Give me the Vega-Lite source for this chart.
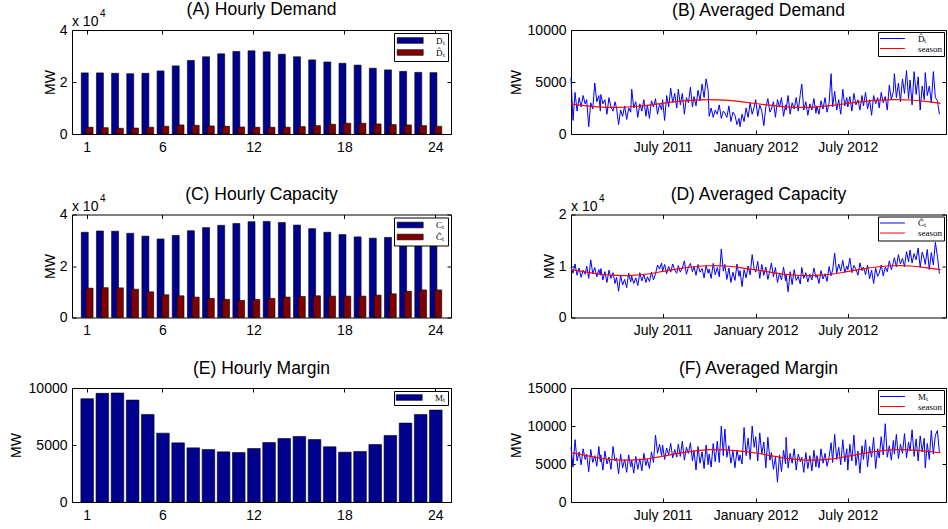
{
  "$schema": "https://vega.github.io/schema/vega-lite/v6.json",
  "padding": {"left": 9, "top": 1, "right": 0, "bottom": 0},
  "background": "white",
  "datasets": {
    "hourly": [
      {"hour":1,"D":23500,"Dh":2600,"C":33100,"Ch":11400,"M":9060},
      {"hour":2,"D":23500,"Dh":2450,"C":33600,"Ch":11600,"M":9530},
      {"hour":3,"D":23350,"Dh":2200,"C":33500,"Ch":11500,"M":9560},
      {"hour":4,"D":23200,"Dh":2300,"C":32700,"Ch":11000,"M":8940},
      {"hour":5,"D":23350,"Dh":2600,"C":31600,"Ch":9970,"M":7680},
      {"hour":6,"D":24260,"Dh":2970,"C":30500,"Ch":8820,"M":6040},
      {"hour":7,"D":26200,"Dh":3480,"C":31900,"Ch":8430,"M":5190},
      {"hour":8,"D":28260,"Dh":3350,"C":33700,"Ch":7920,"M":4750},
      {"hour":9,"D":29700,"Dh":3100,"C":34900,"Ch":7410,"M":4600},
      {"hour":10,"D":30840,"Dh":2970,"C":35800,"Ch":7030,"M":4400},
      {"hour":11,"D":31740,"Dh":2700,"C":36500,"Ch":6650,"M":4340},
      {"hour":12,"D":32000,"Dh":2600,"C":37200,"Ch":7030,"M":4690},
      {"hour":13,"D":31600,"Dh":2600,"C":37300,"Ch":7410,"M":5220},
      {"hour":14,"D":30700,"Dh":2600,"C":36900,"Ch":7920,"M":5570},
      {"hour":15,"D":29700,"Dh":2840,"C":35900,"Ch":8180,"M":5750},
      {"hour":16,"D":28500,"Dh":3230,"C":34500,"Ch":8430,"M":5480},
      {"hour":17,"D":27700,"Dh":3740,"C":33100,"Ch":8300,"M":4840},
      {"hour":18,"D":27200,"Dh":4130,"C":32200,"Ch":8300,"M":4370},
      {"hour":19,"D":26500,"Dh":4130,"C":31300,"Ch":8300,"M":4430},
      {"hour":20,"D":25300,"Dh":3870,"C":30800,"Ch":8690,"M":5040},
      {"hour":21,"D":24650,"Dh":3610,"C":31100,"Ch":9200,"M":5840},
      {"hour":22,"D":24100,"Dh":3480,"C":31500,"Ch":10200,"M":6920},
      {"hour":23,"D":23700,"Dh":3230,"C":31900,"Ch":10700,"M":7680},
      {"hour":24,"D":23600,"Dh":2970,"C":32200,"Ch":10700,"M":8060}
    ],
    "daily": [
      {"d":"2011-01-01","b":5400,"c":9800,"m":7200},{"d":"2011-01-05","b":1300,"c":8600,"m":4600},{"d":"2011-01-09","b":4000,"c":10400,"m":8200},{"d":"2011-01-13","b":2200,"c":8200,"m":5400},{"d":"2011-01-17","b":3500,"c":9600,"m":6600},{"d":"2011-01-21","b":2600,"c":7800,"m":4900},{"d":"2011-01-25","b":3700,"c":9200,"m":7000},{"d":"2011-01-29","b":2900,"c":8400,"m":5600},
      {"d":"2011-02-01","b":3300,"c":10000,"m":6300},{"d":"2011-02-05","b":700,"c":7600,"m":4000},{"d":"2011-02-09","b":3000,"c":11200,"m":6900},{"d":"2011-02-13","b":2400,"c":8500,"m":5200},{"d":"2011-02-17","b":4900,"c":9700,"m":6100},{"d":"2011-02-21","b":3100,"c":7900,"m":4700},{"d":"2011-02-25","b":3700,"c":9300,"m":7300},{"d":"2011-02-28","b":2200,"c":8200,"m":5300},
      {"d":"2011-03-01","b":3800,"c":9500,"m":6200},{"d":"2011-03-05","b":2900,"c":7300,"m":4200},{"d":"2011-03-09","b":3300,"c":8900,"m":6700},{"d":"2011-03-13","b":1900,"c":6800,"m":5000},{"d":"2011-03-17","b":3500,"c":9200,"m":5900},{"d":"2011-03-21","b":2600,"c":7600,"m":4300},{"d":"2011-03-25","b":2200,"c":8700,"m":7300},{"d":"2011-03-29","b":3100,"c":6600,"m":5400},
      {"d":"2011-04-01","b":2500,"c":7800,"m":5800},{"d":"2011-04-05","b":900,"c":5100,"m":3700},{"d":"2011-04-09","b":2300,"c":8200,"m":6300},{"d":"2011-04-13","b":1700,"c":6300,"m":4500},{"d":"2011-04-17","b":2700,"c":7400,"m":5600},{"d":"2011-04-21","b":1400,"c":5800,"m":3900},{"d":"2011-04-25","b":2500,"c":8600,"m":6200},{"d":"2011-04-29","b":2100,"c":6900,"m":4600},
      {"d":"2011-05-01","b":4300,"c":8000,"m":5500},{"d":"2011-05-05","b":2500,"c":6600,"m":3800},{"d":"2011-05-09","b":3100,"c":7700,"m":6000},{"d":"2011-05-13","b":1600,"c":6200,"m":4300},{"d":"2011-05-17","b":2900,"c":8700,"m":5700},{"d":"2011-05-21","b":2200,"c":7100,"m":4100},{"d":"2011-05-25","b":3300,"c":8400,"m":6400},{"d":"2011-05-29","b":1700,"c":6800,"m":4800},
      {"d":"2011-06-01","b":2800,"c":7900,"m":5600},{"d":"2011-06-05","b":1500,"c":7000,"m":4400},{"d":"2011-06-09","b":3200,"c":8800,"m":6600},{"d":"2011-06-13","b":2600,"c":7300,"m":5200},{"d":"2011-06-17","b":3400,"c":8500,"m":8800},{"d":"2011-06-21","b":1900,"c":10200,"m":6400},{"d":"2011-06-25","b":2900,"c":9400,"m":7600},{"d":"2011-06-29","b":2300,"c":10600,"m":6100},
      {"d":"2011-07-01","b":3300,"c":9000,"m":7500},{"d":"2011-07-05","b":1300,"c":10300,"m":5600},{"d":"2011-07-09","b":3700,"c":8500,"m":7100},{"d":"2011-07-13","b":2600,"c":9900,"m":6200},{"d":"2011-07-17","b":4400,"c":8800,"m":7700},{"d":"2011-07-21","b":3000,"c":10400,"m":5800},{"d":"2011-07-25","b":3900,"c":9200,"m":6900},{"d":"2011-07-29","b":2500,"c":8600,"m":5900},
      {"d":"2011-08-01","b":4300,"c":10100,"m":7600},{"d":"2011-08-05","b":2800,"c":8800,"m":6000},{"d":"2011-08-09","b":3900,"c":9600,"m":8000},{"d":"2011-08-13","b":1900,"c":11000,"m":5500},{"d":"2011-08-17","b":3500,"c":8400,"m":7200},{"d":"2011-08-21","b":3000,"c":9800,"m":6400},{"d":"2011-08-25","b":4500,"c":10500,"m":7800},{"d":"2011-08-29","b":2600,"c":8900,"m":5400},
      {"d":"2011-09-01","b":3600,"c":9900,"m":6800},{"d":"2011-09-05","b":2700,"c":8200,"m":4200},{"d":"2011-09-09","b":4200,"c":10300,"m":7300},{"d":"2011-09-13","b":3200,"c":8800,"m":5100},{"d":"2011-09-17","b":4800,"c":9500,"m":6600},{"d":"2011-09-21","b":3500,"c":7700,"m":4400},{"d":"2011-09-25","b":5300,"c":10100,"m":7500},{"d":"2011-09-29","b":4200,"c":8600,"m":4900},
      {"d":"2011-10-01","b":1700,"c":9400,"m":6300},{"d":"2011-10-05","b":2500,"c":7600,"m":4600},{"d":"2011-10-09","b":1600,"c":10500,"m":7700},{"d":"2011-10-13","b":2300,"c":8300,"m":5300},{"d":"2011-10-17","b":1900,"c":9700,"m":8000},{"d":"2011-10-21","b":2800,"c":7900,"m":5200},{"d":"2011-10-25","b":1500,"c":13300,"m":10000},{"d":"2011-10-29","b":2200,"c":9000,"m":6100},
      {"d":"2011-11-01","b":2000,"c":10300,"m":9600},{"d":"2011-11-05","b":1600,"c":7400,"m":5900},{"d":"2011-11-09","b":2700,"c":9600,"m":7400},{"d":"2011-11-13","b":1200,"c":6800,"m":5100},{"d":"2011-11-17","b":2100,"c":8800,"m":6700},{"d":"2011-11-21","b":1800,"c":7200,"m":4500},{"d":"2011-11-25","b":900,"c":10400,"m":6800},{"d":"2011-11-29","b":1500,"c":8000,"m":5400},
      {"d":"2011-12-01","b":700,"c":9100,"m":6200},{"d":"2011-12-05","b":1900,"c":6000,"m":5000},{"d":"2011-12-09","b":1200,"c":9300,"m":9800},{"d":"2011-12-13","b":2500,"c":7700,"m":6100},{"d":"2011-12-17","b":1600,"c":10000,"m":8400},{"d":"2011-12-21","b":3000,"c":8300,"m":5600},{"d":"2011-12-25","b":1900,"c":12200,"m":10000},{"d":"2011-12-29","b":2600,"c":9400,"m":7200},
      {"d":"2012-01-01","b":3300,"c":8800,"m":8600},{"d":"2012-01-05","b":1700,"c":10900,"m":5400},{"d":"2012-01-09","b":2800,"c":7600,"m":9100},{"d":"2012-01-13","b":2200,"c":10300,"m":6300},{"d":"2012-01-17","b":800,"c":8200,"m":7900},{"d":"2012-01-21","b":2600,"c":9800,"m":4500},{"d":"2012-01-25","b":3400,"c":7400,"m":8500},{"d":"2012-01-29","b":2100,"c":9100,"m":5500},
      {"d":"2012-02-01","b":2400,"c":10600,"m":6500},{"d":"2012-02-05","b":3100,"c":7900,"m":4300},{"d":"2012-02-09","b":1600,"c":9700,"m":5900},{"d":"2012-02-13","b":3300,"c":6800,"m":2600},{"d":"2012-02-17","b":2600,"c":8600,"m":6200},{"d":"2012-02-21","b":3500,"c":7300,"m":4000},{"d":"2012-02-25","b":1700,"c":9800,"m":6800},{"d":"2012-02-29","b":2800,"c":7100,"m":5000},
      {"d":"2012-03-01","b":2300,"c":8400,"m":8500},{"d":"2012-03-05","b":3700,"c":5000,"m":4500},{"d":"2012-03-09","b":1900,"c":8900,"m":6400},{"d":"2012-03-13","b":3000,"c":6400,"m":5100},{"d":"2012-03-17","b":2400,"c":9300,"m":7000},{"d":"2012-03-21","b":3500,"c":7200,"m":4200},{"d":"2012-03-25","b":2200,"c":8000,"m":6300},{"d":"2012-03-29","b":3800,"c":6500,"m":5300},
      {"d":"2012-04-01","b":4800,"c":9700,"m":5900},{"d":"2012-04-05","b":2300,"c":7600,"m":3900},{"d":"2012-04-09","b":3100,"c":8700,"m":6500},{"d":"2012-04-13","b":1800,"c":6900,"m":4400},{"d":"2012-04-17","b":2900,"c":8400,"m":6100},{"d":"2012-04-21","b":2300,"c":7300,"m":4100},{"d":"2012-04-25","b":3400,"c":9600,"m":6800},{"d":"2012-04-29","b":2000,"c":7800,"m":4600},
      {"d":"2012-05-01","b":2700,"c":8300,"m":6100},{"d":"2012-05-05","b":1900,"c":6600,"m":4500},{"d":"2012-05-09","b":3200,"c":9100,"m":7000},{"d":"2012-05-13","b":2400,"c":7500,"m":5100},{"d":"2012-05-17","b":3500,"c":8500,"m":6400},{"d":"2012-05-21","b":2100,"c":7000,"m":4700},{"d":"2012-05-25","b":3000,"c":9900,"m":5900},{"d":"2012-05-29","b":5800,"c":8100,"m":7800},
      {"d":"2012-06-01","b":2600,"c":9200,"m":5200},{"d":"2012-06-05","b":4100,"c":12500,"m":8900},{"d":"2012-06-09","b":2300,"c":8600,"m":5600},{"d":"2012-06-13","b":3300,"c":10400,"m":7200},{"d":"2012-06-17","b":1900,"c":9000,"m":4900},{"d":"2012-06-21","b":4300,"c":11100,"m":8200},{"d":"2012-06-25","b":2700,"c":8700,"m":5300},{"d":"2012-06-29","b":3500,"c":10000,"m":7000},
      {"d":"2012-07-01","b":2600,"c":9300,"m":4200},{"d":"2012-07-05","b":3600,"c":11500,"m":7600},{"d":"2012-07-09","b":2200,"c":8700,"m":5400},{"d":"2012-07-13","b":3900,"c":10100,"m":8800},{"d":"2012-07-17","b":2800,"c":9400,"m":4800},{"d":"2012-07-21","b":3300,"c":8200,"m":6700},{"d":"2012-07-25","b":2300,"c":10600,"m":3800},{"d":"2012-07-29","b":3700,"c":9100,"m":7400},
      {"d":"2012-08-01","b":2700,"c":9800,"m":5600},{"d":"2012-08-05","b":4000,"c":8300,"m":8200},{"d":"2012-08-09","b":2400,"c":10200,"m":4600},{"d":"2012-08-13","b":3300,"c":7500,"m":7300},{"d":"2012-08-17","b":1800,"c":9200,"m":5900},{"d":"2012-08-21","b":3700,"c":6600,"m":8500},{"d":"2012-08-25","b":2900,"c":9600,"m":4400},{"d":"2012-08-29","b":3500,"c":8000,"m":7000},
      {"d":"2012-09-01","b":2500,"c":8600,"m":5800},{"d":"2012-09-05","b":4000,"c":10200,"m":8600},{"d":"2012-09-09","b":3000,"c":8100,"m":6200},{"d":"2012-09-13","b":3600,"c":9800,"m":10300},{"d":"2012-09-17","b":2300,"c":8900,"m":5900},{"d":"2012-09-21","b":4700,"c":11000,"m":7400},{"d":"2012-09-25","b":3300,"c":9300,"m":5500},{"d":"2012-09-29","b":4100,"c":10700,"m":8100},
      {"d":"2012-10-01","b":5800,"c":11600,"m":6300},{"d":"2012-10-05","b":3500,"c":9800,"m":8900},{"d":"2012-10-09","b":4900,"c":12200,"m":5700},{"d":"2012-10-13","b":3100,"c":10400,"m":7600},{"d":"2012-10-17","b":5300,"c":11500,"m":6400},{"d":"2012-10-21","b":3900,"c":9900,"m":9000},{"d":"2012-10-25","b":6100,"c":12800,"m":5800},{"d":"2012-10-29","b":3400,"c":10800,"m":7900},
      {"d":"2012-11-01","b":5200,"c":13100,"m":6700},{"d":"2012-11-05","b":2800,"c":10600,"m":9500},{"d":"2012-11-09","b":6000,"c":12400,"m":6000},{"d":"2012-11-13","b":3800,"c":11200,"m":8300},{"d":"2012-11-17","b":5500,"c":13500,"m":5400},{"d":"2012-11-21","b":2300,"c":9700,"m":8700},{"d":"2012-11-25","b":4600,"c":12700,"m":6600},{"d":"2012-11-29","b":3300,"c":11400,"m":8400},
      {"d":"2012-12-01","b":5900,"c":10300,"m":4500},{"d":"2012-12-05","b":3700,"c":13200,"m":7700},{"d":"2012-12-09","b":4600,"c":9300,"m":5600},{"d":"2012-12-13","b":3000,"c":12600,"m":9400},{"d":"2012-12-17","b":6000,"c":10200,"m":6300},{"d":"2012-12-21","b":3500,"c":14600,"m":8800},{"d":"2012-12-25","b":3200,"c":11900,"m":9400},{"d":"2012-12-29","b":1900,"c":8500,"m":6500}
    ],
    "season": [
      {"d":"2011-01-01","sb":2870,"sc":9300,"sm":6500},
      {"d":"2011-02-01","sb":2700,"sc":8800,"sm":6100},
      {"d":"2011-03-01","sb":2590,"sc":8400,"sm":5750},
      {"d":"2011-04-01","sb":2560,"sc":8170,"sm":5550},
      {"d":"2011-05-01","sb":2620,"sc":8180,"sm":5520},
      {"d":"2011-06-01","sb":2760,"sc":8450,"sm":5680},
      {"d":"2011-07-01","sb":2950,"sc":8950,"sm":6020},
      {"d":"2011-08-01","sb":3130,"sc":9450,"sm":6400},
      {"d":"2011-09-01","sb":3260,"sc":9850,"sm":6700},
      {"d":"2011-10-01","sb":3310,"sc":10050,"sm":6880},
      {"d":"2011-11-01","sb":3260,"sc":10000,"sm":6870},
      {"d":"2011-12-01","sb":3120,"sc":9700,"sm":6700},
      {"d":"2012-01-01","sb":2930,"sc":9250,"sm":6450},
      {"d":"2012-02-01","sb":2750,"sc":8780,"sm":6080},
      {"d":"2012-03-01","sb":2610,"sc":8380,"sm":5740},
      {"d":"2012-04-01","sb":2560,"sc":8160,"sm":5550},
      {"d":"2012-05-01","sb":2610,"sc":8180,"sm":5520},
      {"d":"2012-06-01","sb":2750,"sc":8450,"sm":5680},
      {"d":"2012-07-01","sb":2940,"sc":8950,"sm":6020},
      {"d":"2012-08-01","sb":3120,"sc":9450,"sm":6400},
      {"d":"2012-09-01","sb":3250,"sc":9850,"sm":6700},
      {"d":"2012-10-01","sb":3310,"sc":10050,"sm":6880},
      {"d":"2012-11-01","sb":3270,"sc":10000,"sm":6870},
      {"d":"2012-12-01","sb":3130,"sc":9700,"sm":6700},
      {"d":"2012-12-31","sb":2940,"sc":9300,"sm":6480}
    ]
  },
  "columns": 2,
  "spacing": {"row": 70.5, "column": 120},
  "bounds": "flush",
  "resolve": {"scale": {"x": "independent", "y": "independent", "color": "independent"}, "legend": {"color": "independent"}},
  "concat": [
    {
      "width": 379, "height": 113.5,
      "title": {"text": "(A) Hourly Demand", "offset": -9.5},
      "data": {"name": "hourly"},
      "layer": [
        {"mark": {"type": "bar", "width": {"band": 0.46}, "xOffset": -2.4, "stroke": "black", "strokeWidth": 0.6},
         "encoding": {
           "x": {"field": "hour", "type": "ordinal", "scale": {"paddingInner": 0, "paddingOuter": 0.5}, "axis": {"values": [1,6,12,18,24], "title": null, "offset": -9.5}},
           "y": {"field": "D", "type": "quantitative", "scale": {"domain": [0, 40000], "range": [104, 0], "nice": false}, "axis": {"values": [0,20000,40000], "labelExpr": "datum.value/10000", "title": "MW", "titlePadding": 2}},
           "color": {"datum": "Dₜ", "scale": {"domain": ["Dₜ", "D̂ₜ"], "range": ["#00008F", "#800000"]},
             "legend": {"title": null, "orient": "top-right", "offset": 3, "symbolType": "M-3.25,-0.71H3.25V0.71H-3.25Z", "symbolSize": 64, "symbolOffset": 8.7, "symbolStrokeColor": "black", "symbolStrokeWidth": 0.6, "padding": 3, "rowPadding": 2, "labelFont": "Liberation Serif", "labelFontSize": 9, "labelOffset": 21.4, "strokeColor": "black", "fillColor": "white"}}
         }},
        {"mark": {"type": "bar", "width": {"band": 0.46}, "xOffset": 2.4, "stroke": "black", "strokeWidth": 0.6},
         "encoding": {
           "x": {"field": "hour", "type": "ordinal", "axis": {"orient": "top", "values": [1,6,12,18,24], "labels": false, "title": null}},
           "y": {"field": "Dh", "type": "quantitative", "axis": {"orient": "right", "values": [0,20000,40000], "labels": false, "title": null}},
           "color": {"datum": "D̂ₜ"}
         }},
        {"data": {"values": [{}]},
         "mark": {"type": "text", "text": "x 10", "align": "left", "baseline": "alphabetic", "fontSize": 14, "dx": -7.6, "dy": -4, "color": "black"},
         "encoding": {"x": {"datum": 1, "type": "ordinal", "bandPosition": 0, "axis": null}, "y": {"datum": 40000, "type": "quantitative", "axis": null}}},
        {"data": {"values": [{}]},
         "mark": {"type": "text", "text": "4", "align": "left", "baseline": "alphabetic", "fontSize": 10, "dx": 20.5, "dy": -13, "color": "black"},
         "encoding": {"x": {"datum": 1, "type": "ordinal", "bandPosition": 0, "axis": null}, "y": {"datum": 40000, "type": "quantitative", "axis": null}}}
      ],
      "resolve": {"axis": {"x": "independent", "y": "independent"}}
    },
    {
      "width": 375, "height": 113.5,
      "title": {"text": "(B) Averaged Demand", "offset": 3.5},
      "layer": [
        {"data": {"name": "daily"}, "mark": {"type": "line", "strokeWidth": 1},
         "encoding": {
           "x": {"field": "d", "type": "temporal", "scale": {"domain": [{"year": 2011, "month": 1, "date": 1}, {"year": 2013, "month": 1, "date": 11}]},
                 "axis": {"values": [{"year": 2011, "month": 7, "date": 1}, {"year": 2012, "month": 1, "date": 1}, {"year": 2012, "month": 7, "date": 1}], "format": "%B %Y", "title": null, "offset": -9.5}},
           "y": {"field": "b", "type": "quantitative", "scale": {"domain": [0, 10000], "range": [104, 0], "nice": false}, "axis": {"values": [0,5000,10000], "format": "d", "title": "MW", "titlePadding": 4}},
           "color": {"datum": "D̂ₜ", "scale": {"domain": ["D̂ₜ", "season"], "range": ["#0000FF", "#FF0000"]},
             "legend": {"title": null, "orient": "top-right", "offset": 2, "symbolType": "M-3.1,0H3.1", "symbolSize": 64, "symbolOffset": 8, "symbolStrokeWidth": 1, "padding": 2, "rowPadding": 0, "labelFont": "Liberation Serif", "labelFontSize": 9, "labelOffset": 21, "strokeColor": "black", "fillColor": "white"}}
         }},
        {"data": {"name": "season"}, "mark": {"type": "line", "strokeWidth": 1.2, "interpolate": "natural"},
         "encoding": {
           "x": {"field": "d", "type": "temporal", "axis": {"orient": "top", "values": [{"year": 2011, "month": 7, "date": 1}, {"year": 2012, "month": 1, "date": 1}, {"year": 2012, "month": 7, "date": 1}], "labels": false, "title": null}},
           "y": {"field": "sb", "type": "quantitative", "axis": {"orient": "right", "values": [0,5000,10000], "labels": false, "title": null}},
           "color": {"datum": "season"}
         }}
      ],
      "resolve": {"axis": {"x": "independent", "y": "independent"}}
    },
    {
      "width": 379, "height": 103,
      "title": {"text": "(C) Hourly Capacity", "offset": -9.5},
      "data": {"name": "hourly"},
      "layer": [
        {"mark": {"type": "bar", "width": {"band": 0.46}, "xOffset": -2.4, "stroke": "black", "strokeWidth": 0.6},
         "encoding": {
           "x": {"field": "hour", "type": "ordinal", "scale": {"paddingInner": 0, "paddingOuter": 0.5}, "axis": {"values": [1,6,12,18,24], "title": null}},
           "y": {"field": "C", "type": "quantitative", "scale": {"domain": [0, 40000], "nice": false}, "axis": {"values": [0,20000,40000], "labelExpr": "datum.value/10000", "title": "MW", "titlePadding": 2}},
           "color": {"datum": "Cₜ", "scale": {"domain": ["Cₜ", "Ĉₜ"], "range": ["#00008F", "#800000"]},
             "legend": {"title": null, "orient": "top-right", "offset": 3, "symbolType": "M-3.25,-0.71H3.25V0.71H-3.25Z", "symbolSize": 64, "symbolOffset": 8.7, "symbolStrokeColor": "black", "symbolStrokeWidth": 0.6, "padding": 3, "rowPadding": 2, "labelFont": "Liberation Serif", "labelFontSize": 9, "labelOffset": 21.4, "strokeColor": "black", "fillColor": "white"}}
         }},
        {"mark": {"type": "bar", "width": {"band": 0.46}, "xOffset": 2.4, "stroke": "black", "strokeWidth": 0.6},
         "encoding": {
           "x": {"field": "hour", "type": "ordinal", "axis": {"orient": "top", "values": [1,6,12,18,24], "labels": false, "title": null}},
           "y": {"field": "Ch", "type": "quantitative", "axis": {"orient": "right", "values": [0,20000,40000], "labels": false, "title": null}},
           "color": {"datum": "Ĉₜ"}
         }},
        {"data": {"values": [{}]},
         "mark": {"type": "text", "text": "x 10", "align": "left", "baseline": "alphabetic", "fontSize": 14, "dx": -7.6, "dy": -4, "color": "black"},
         "encoding": {"x": {"datum": 1, "type": "ordinal", "bandPosition": 0, "axis": null}, "y": {"datum": 40000, "type": "quantitative", "axis": null}}},
        {"data": {"values": [{}]},
         "mark": {"type": "text", "text": "4", "align": "left", "baseline": "alphabetic", "fontSize": 10, "dx": 20.5, "dy": -13, "color": "black"},
         "encoding": {"x": {"datum": 1, "type": "ordinal", "bandPosition": 0, "axis": null}, "y": {"datum": 40000, "type": "quantitative", "axis": null}}}
      ],
      "resolve": {"axis": {"x": "independent", "y": "independent"}}
    },
    {
      "width": 375, "height": 103,
      "title": {"text": "(D) Averaged Capacity", "offset": -9.5},
      "layer": [
        {"data": {"name": "daily"}, "mark": {"type": "line", "strokeWidth": 1},
         "encoding": {
           "x": {"field": "d", "type": "temporal", "scale": {"domain": [{"year": 2011, "month": 1, "date": 1}, {"year": 2013, "month": 1, "date": 11}]},
                 "axis": {"values": [{"year": 2011, "month": 7, "date": 1}, {"year": 2012, "month": 1, "date": 1}, {"year": 2012, "month": 7, "date": 1}], "format": "%B %Y", "title": null}},
           "y": {"field": "c", "type": "quantitative", "scale": {"domain": [0, 20000], "nice": false}, "axis": {"values": [0,10000,20000], "labelExpr": "datum.value/10000", "title": "MW", "titlePadding": 2}},
           "color": {"datum": "Ĉₜ", "scale": {"domain": ["Ĉₜ", "season"], "range": ["#0000FF", "#FF0000"]},
             "legend": {"title": null, "orient": "top-right", "offset": 2, "symbolType": "M-3.1,0H3.1", "symbolSize": 64, "symbolOffset": 8, "symbolStrokeWidth": 1, "padding": 2, "rowPadding": 0, "labelFont": "Liberation Serif", "labelFontSize": 9, "labelOffset": 21, "strokeColor": "black", "fillColor": "white"}}
         }},
        {"data": {"name": "season"}, "mark": {"type": "line", "strokeWidth": 1.2, "interpolate": "natural"},
         "encoding": {
           "x": {"field": "d", "type": "temporal", "axis": {"orient": "top", "values": [{"year": 2011, "month": 7, "date": 1}, {"year": 2012, "month": 1, "date": 1}, {"year": 2012, "month": 7, "date": 1}], "labels": false, "title": null}},
           "y": {"field": "sc", "type": "quantitative", "axis": {"orient": "right", "values": [0,10000,20000], "labels": false, "title": null}},
           "color": {"datum": "season"}
         }},
        {"data": {"values": [{}]},
         "mark": {"type": "text", "text": "x 10", "align": "left", "baseline": "alphabetic", "fontSize": 14, "dy": -4, "color": "black"},
         "encoding": {"x": {"datum": {"year": 2011, "month": 1, "date": 1}, "type": "temporal", "axis": null}, "y": {"datum": 20000, "type": "quantitative", "axis": null}}},
        {"data": {"values": [{}]},
         "mark": {"type": "text", "text": "4", "align": "left", "baseline": "alphabetic", "fontSize": 10, "dx": 28.1, "dy": -13, "color": "black"},
         "encoding": {"x": {"datum": {"year": 2011, "month": 1, "date": 1}, "type": "temporal", "axis": null}, "y": {"datum": 20000, "type": "quantitative", "axis": null}}}
      ],
      "resolve": {"axis": {"x": "independent", "y": "independent"}}
    },
    {
      "width": 379, "height": 114,
      "title": {"text": "(E) Hourly Margin", "offset": 3.5},
      "data": {"name": "hourly"},
      "layer": [
        {"mark": {"type": "bar", "width": {"band": 0.83}, "stroke": "black", "strokeWidth": 0.6},
         "encoding": {
           "x": {"field": "hour", "type": "ordinal", "scale": {"paddingInner": 0, "paddingOuter": 0.5}, "axis": {"values": [1,6,12,18,24], "title": null}},
           "y": {"field": "M", "type": "quantitative", "scale": {"domain": [0, 10000], "nice": false}, "axis": {"values": [0,5000,10000], "format": "d", "title": "MW", "titlePadding": 5}},
           "color": {"datum": "Mₜ", "scale": {"domain": ["Mₜ"], "range": ["#00008F"]},
             "legend": {"title": null, "orient": "top-right", "offset": 3, "symbolType": "M-3.25,-0.71H3.25V0.71H-3.25Z", "symbolSize": 64, "symbolOffset": 8.7, "symbolStrokeColor": "black", "symbolStrokeWidth": 0.6, "padding": 2, "rowPadding": 0, "labelFont": "Liberation Serif", "labelFontSize": 9, "labelOffset": 21.4, "strokeColor": "black", "fillColor": "white"}}
         }},
        {"mark": {"type": "bar", "width": {"band": 0.83}, "opacity": 0},
         "encoding": {
           "x": {"field": "hour", "type": "ordinal", "axis": {"orient": "top", "values": [1,6,12,18,24], "labels": false, "title": null}},
           "y": {"field": "M", "type": "quantitative", "axis": {"orient": "right", "values": [0,5000,10000], "labels": false, "title": null}}
         }}
      ],
      "resolve": {"axis": {"x": "independent", "y": "independent"}}
    },
    {
      "width": 375, "height": 114,
      "title": {"text": "(F) Averaged Margin", "offset": 3.5},
      "layer": [
        {"data": {"name": "daily"}, "mark": {"type": "line", "strokeWidth": 1},
         "encoding": {
           "x": {"field": "d", "type": "temporal", "scale": {"domain": [{"year": 2011, "month": 1, "date": 1}, {"year": 2013, "month": 1, "date": 11}]},
                 "axis": {"values": [{"year": 2011, "month": 7, "date": 1}, {"year": 2012, "month": 1, "date": 1}, {"year": 2012, "month": 7, "date": 1}], "format": "%B %Y", "title": null}},
           "y": {"field": "m", "type": "quantitative", "scale": {"domain": [0, 15000], "nice": false}, "axis": {"values": [0,5000,10000,15000], "format": "d", "title": "MW", "titlePadding": 4}},
           "color": {"datum": "Mₜ", "scale": {"domain": ["Mₜ", "season"], "range": ["#0000FF", "#FF0000"]},
             "legend": {"title": null, "orient": "top-right", "offset": 2, "symbolType": "M-3.1,0H3.1", "symbolSize": 64, "symbolOffset": 8, "symbolStrokeWidth": 1, "padding": 2, "rowPadding": 0, "labelFont": "Liberation Serif", "labelFontSize": 9, "labelOffset": 21, "strokeColor": "black", "fillColor": "white"}}
         }},
        {"data": {"name": "season"}, "mark": {"type": "line", "strokeWidth": 1.2, "interpolate": "natural"},
         "encoding": {
           "x": {"field": "d", "type": "temporal", "axis": {"orient": "top", "values": [{"year": 2011, "month": 7, "date": 1}, {"year": 2012, "month": 1, "date": 1}, {"year": 2012, "month": 7, "date": 1}], "labels": false, "title": null}},
           "y": {"field": "sm", "type": "quantitative", "axis": {"orient": "right", "values": [0,5000,10000,15000], "labels": false, "title": null}},
           "color": {"datum": "season"}
         }}
      ],
      "resolve": {"axis": {"x": "independent", "y": "independent"}}
    }
  ],
  "config": {
    "font": "Liberation Sans",
    "view": {"stroke": null},
    "axis": {"grid": false, "domain": true, "domainColor": "black", "domainWidth": 1, "ticks": true, "tickColor": "black", "tickSize": -4, "tickWidth": 1, "labelFont": "Liberation Sans", "labelFontSize": 14, "labelColor": "black", "labelFlush": false, "labelOverlap": false, "titleFont": "Liberation Sans", "titleFontSize": 14, "titleFontWeight": "normal", "titleColor": "black"},
    "axisX": {"labelPadding": 10, "labelAngle": 0},
    "axisY": {"labelPadding": 9},
    "title": {"font": "Liberation Sans", "fontSize": 17.5, "fontWeight": "normal", "color": "black", "anchor": "middle", "frame": "group", "baseline": "alphabetic"}
  }
}
